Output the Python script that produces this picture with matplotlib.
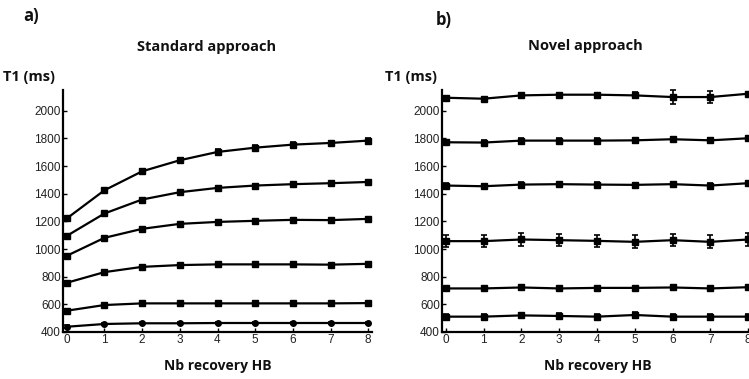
import numpy as np
import matplotlib.pyplot as plt

# Nb of recovery heartbeats
hb = [0, 1, 2, 3, 4, 5, 6, 7, 8]

# Standard approach: mean T1 (ms) per phantom, top to bottom
std_t1 = [
    [1221, 1425, 1562, 1642, 1702, 1733, 1755, 1767, 1784],
    [1095, 1257, 1358, 1411, 1442, 1459, 1469, 1476, 1485],
    [951, 1081, 1146, 1182, 1196, 1204, 1211, 1209, 1218],
    [756, 833, 871, 884, 889, 889, 889, 887, 893],
    [554, 595, 607, 607, 607, 607, 607, 607, 609],
    [438, 458, 463, 463, 465, 465, 465, 465, 465],
]
std_err = [
    [14, 14, 14, 14, 18, 20, 18, 16, 16],
    [12, 12, 12, 12, 12, 12, 12, 12, 12],
    [12, 12, 10, 10, 10, 10, 10, 10, 10],
    [14, 10, 10, 10, 10, 10, 10, 10, 10],
    [10, 8, 8, 8, 8, 8, 8, 8, 8],
    [10, 6, 6, 6, 6, 6, 6, 6, 6],
]

# Novel approach: mean T1 (ms) per phantom, top to bottom
nov_t1 = [
    [2094, 2087, 2111, 2116, 2116, 2111, 2099, 2099, 2123],
    [1772, 1770, 1784, 1784, 1784, 1786, 1794, 1786, 1801],
    [1459, 1454, 1466, 1469, 1466, 1464, 1469, 1459, 1476],
    [1057, 1057, 1069, 1064, 1059, 1052, 1064, 1052, 1069],
    [715, 715, 722, 715, 719, 719, 722, 715, 724],
    [511, 511, 520, 516, 511, 523, 511, 511, 511],
]
nov_err = [
    [14, 12, 16, 12, 12, 22, 50, 45, 10],
    [16, 16, 18, 16, 16, 18, 16, 16, 16],
    [16, 16, 16, 16, 16, 16, 16, 16, 16],
    [45, 45, 45, 45, 45, 48, 45, 48, 45],
    [10, 10, 10, 8, 8, 8, 10, 8, 8],
    [22, 22, 20, 20, 20, 20, 20, 20, 20],
]

W, H = 749, 379
fig = plt.figure(figsize=(W / 100, H / 100), dpi=100)

tick_font = "Liberation Sans"
label_font = "Open Sans"


def style_axes(ax, xmax):
    ax.set_xlim(-0.1, xmax)
    ax.set_ylim(400, 2150)
    ax.set_xticks(hb)
    ax.set_yticks(range(400, 2001, 200))
    for side in ("top", "right"):
        ax.spines[side].set_visible(False)
    for side in ("left", "bottom"):
        ax.spines[side].set_linewidth(1.6)
    ax.tick_params(direction="in", length=3, width=1, labelsize=8.5, pad=1.5)
    for lab in ax.get_xticklabels() + ax.get_yticklabels():
        lab.set_fontfamily(tick_font)
        lab.set_color("#222222")
    ax.patch.set_alpha(0)


# --- a) standard approach ---
ax1 = fig.add_axes([63 / W, 1 - 332 / H, 309 / W, 242 / H])
for i, (vals, err) in enumerate(zip(std_t1, std_err)):
    mk = "o" if i == len(std_t1) - 1 else "s"
    ax1.errorbar(hb, vals, yerr=err, color="black", lw=1.6, marker=mk,
                 ms=4, elinewidth=1.2, capsize=2.5, capthick=1.2, clip_on=False)
style_axes(ax1, 8.1)

# --- b) novel approach ---
ax2 = fig.add_axes([442 / W, 1 - 332 / H, 310 / W, 242 / H])
for vals, err in zip(nov_t1, nov_err):
    ax2.errorbar(hb, vals, yerr=err, color="black", lw=1.6, marker="s",
                 ms=4, elinewidth=1.2, capsize=2.5, capthick=1.2, clip_on=False)
style_axes(ax2, 8.1)

# panel letters, titles and axis labels
txt = dict(fontfamily=label_font, fontweight="bold", color="#111111")
fig.text(31 / W, 1 - 16 / H, "a)", fontsize=12, ha="center", va="center", **txt)
fig.text(444 / W, 1 - 20 / H, "b)", fontsize=12, ha="center", va="center", **txt)
fig.text(207 / W, 1 - 47 / H, "Standard approach", fontsize=10.5, ha="center", va="center", **txt)
fig.text(585 / W, 1 - 46 / H, "Novel approach", fontsize=10.5, ha="center", va="center", **txt)
fig.text(3 / W, 1 - 77 / H, "T1 (ms)", fontsize=10.5, ha="left", va="center", **txt)
fig.text(385 / W, 1 - 77 / H, "T1 (ms)", fontsize=10.5, ha="left", va="center", **txt)
fig.text(218 / W, 1 - 366 / H, "Nb recovery HB", fontsize=10, ha="center", va="center", **txt)
fig.text(598 / W, 1 - 366 / H, "Nb recovery HB", fontsize=10, ha="center", va="center", **txt)

fig.savefig("out.png", dpi=100)
